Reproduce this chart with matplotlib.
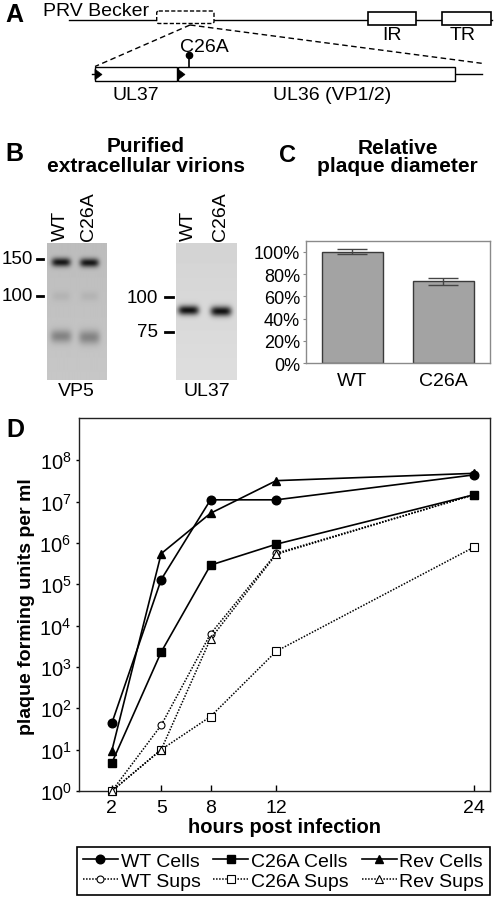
import numpy as np
import matplotlib
matplotlib.use("Agg")
import matplotlib.pyplot as plt
from matplotlib.patches import Rectangle, FancyBboxPatch, Polygon
from matplotlib.ticker import NullLocator

plt.rcParams['font.family'] = ['Liberation Sans', 'DejaVu Sans']
plt.rcParams['mathtext.fontset'] = 'custom'
plt.rcParams['mathtext.rm'] = 'Liberation Sans'
plt.rcParams['mathtext.it'] = 'Liberation Sans:italic'
plt.rcParams['mathtext.bf'] = 'Liberation Sans:bold'

# ---------------- data ----------------
hours = [2, 5, 8, 12, 24]
hour_ticks = [2, 5, 8, 12, 24]
wt_cells = [44, 1.3e5, 1.1e7, 1.1e7, 4.4e7]
c26a_cells = [4.8, 2.3e3, 2.9e5, 9.3e5, 1.45e7]
rev_cells = [9.5, 5.5e5, 5.2e6, 3.2e7, 4.8e7]
wt_sups = [1, 39, 6.3e3, 5.6e5, 1.45e7]
c26a_sups = [1, 10, 63, 2.4e3, 7.8e5]
rev_sups = [1, 10, 4.8e3, 5.3e5, 1.45e7]
series_labels = ['WT Cells', 'WT Sups', 'C26A Cells', 'C26A Sups', 'Rev Cells', 'Rev Sups']

plaque_labels = ['WT', 'C26A']
plaque_rel = [1.00, 0.735]
plaque_err = [0.02, 0.032]
plaque_ticks = [0, 0.2, 0.4, 0.6, 0.8, 1.0]

vp5_markers = ['150', '100']
ul37_markers = ['100', '75']
lane_labels = ['WT', 'C26A']

# ---------------- figure ----------------
W, H = 498, 903
fig = plt.figure(figsize=(W / 100, H / 100), dpi=100)
fig.patch.set_facecolor('white')


def rect(l, t, r, b):
    return [l / W, 1 - b / H, (r - l) / W, (b - t) / H]


ov = fig.add_axes([0, 0, 1, 1])
ov.set_xlim(0, W)
ov.set_ylim(H, 0)
ov.axis('off')

# ---------------- panel A (schematic) ----------------
lw = 1.0
ov.plot([69, 491.5], [20.5, 20.5], color='k', lw=lw)
ov.add_patch(FancyBboxPatch((156.7, 12), 57.3, 12.5,
                            boxstyle='round,pad=0,rounding_size=2',
                            fc='white', ec='k', ls=(0, (3, 1.5)), lw=lw, zorder=3))
for x0 in (367.7, 442.3):
    ov.add_patch(Rectangle((x0, 13), 48.2, 12.7, fc='white', ec='k', lw=1.2, zorder=3))
ov.plot([190, 95], [26, 67.5], color='k', lw=lw, ls=(0, (4, 2.5)))
ov.plot([190, 481.7], [26, 64.3], color='k', lw=lw, ls=(0, (4, 2.5)))
ov.plot([91.5, 95], [75, 75], color='k', lw=lw)
ov.plot([455, 481.7], [75, 75], color='k', lw=lw)
ov.add_patch(Rectangle((95, 68.3), 81.7, 13.4, fc='white', ec='k', lw=lw, zorder=3))
ov.add_patch(Rectangle((178, 68.3), 277, 13.4, fc='white', ec='k', lw=lw, zorder=3))
for x0 in (95, 178):
    ov.add_patch(Polygon([(x0, 70.3), (x0, 80.7), (x0 + 7, 75.5)], closed=True,
                         fc='k', ec='k', lw=0.5, zorder=4))
ov.plot([189, 189], [56, 68.3], color='k', lw=1.2)
ov.plot([189], [56], marker='o', ms=4.5, color='k')

fsA = 14
ov.text(43, 11, 'PRV Becker', ha='left', va='center', fontsize=fsA)
ov.text(392, 35, 'IR', ha='center', va='center', fontsize=fsA)
ov.text(463, 35, 'TR', ha='center', va='center', fontsize=fsA)
ov.text(204, 47, 'C26A', ha='center', va='center', fontsize=fsA)
ov.text(136, 95, 'UL37', ha='center', va='center', fontsize=fsA)
ov.text(332, 95, 'UL36 (VP1/2)', ha='center', va='center', fontsize=fsA)

# panel letters
for letter, (lx, ly, fs) in {'A': (14, 15, 18), 'B': (14, 154, 18),
                             'C': (287, 156, 17), 'D': (15, 430, 18)}.items():
    ov.text(lx, ly, letter, ha='center', va='center', fontsize=fs, fontweight='bold')

# ---------------- panel B (blots) ----------------
ov.text(146, 146.7, 'Purified', ha='center', va='center', fontsize=15, fontweight='bold')
ov.text(146, 166.7, 'extracellular virions', ha='center', va='center', fontsize=15,
        fontweight='bold')


def blot(l, t, r, b, bg, bands):
    xs = np.arange(l, r, 0.5)
    ys = np.arange(t, b, 0.5)
    X, Y = np.meshgrid(xs, ys)
    img = bg + 0.04 * (Y - t) / (b - t)
    for (cx, cy, sx, sy, a) in bands:
        img = img - a * np.exp(-(np.abs(X - cx) / sx) ** 4 - ((Y - cy) / sy) ** 2)
    ax = fig.add_axes(rect(l, t, r, b))
    ax.imshow(np.clip(img, 0, 1), cmap='gray', vmin=0, vmax=1, aspect='auto',
              extent=(l, r, b, t), interpolation='bilinear')
    ax.axis('off')
    return ax


blot(46.7, 244, 106, 380.7, 0.74,
     [(60.5, 263, 9.5, 4.4, 0.66), (88.5, 263.5, 9.5, 4.4, 0.66),
      (60.5, 297, 9, 5, 0.05), (88.5, 297, 9, 5, 0.05),
      (60.5, 337, 10.5, 6.5, 0.25), (88.5, 338, 10.5, 7, 0.25)])
blot(175.7, 244, 236.7, 380.7, 0.83,
     [(188, 311, 10.5, 4.8, 0.78), (220.5, 312, 10.5, 5.0, 0.78)])

for lbl, x in zip(lane_labels * 2, [60, 89, 188, 220]):
    ov.text(x, 241, lbl, rotation=90, ha='center', va='bottom', fontsize=14)

for lbl, y in zip(vp5_markers, [259.5, 296.7]):
    ov.text(33, y, lbl, ha='right', va='center', fontsize=13.5)
    ov.plot([36.7, 43.3], [y, y], color='k', lw=2)
for lbl, y in zip(ul37_markers, [298.3, 332.7]):
    ov.text(158, y, lbl, ha='right', va='center', fontsize=13.5)
    ov.plot([165, 172.7], [y, y], color='k', lw=2)

ov.text(76, 391.5, 'VP5', ha='center', va='center', fontsize=14)
ov.text(206.5, 391.5, 'UL37', ha='center', va='center', fontsize=14)

# ---------------- panel C (bars) ----------------
ov.text(397.5, 148, 'Relative', ha='center', va='center', fontsize=15, fontweight='bold')
ov.text(397.5, 167, 'plaque diameter', ha='center', va='center', fontsize=15,
        fontweight='bold')

axc = fig.add_axes(rect(305.7, 242.3, 490, 364.3))
xpos = np.arange(len(plaque_labels))
axc.bar(xpos, plaque_rel, width=0.67, color='#a3a3a3', edgecolor='#3a3a3a', lw=1,
        yerr=plaque_err, capsize=11,
        error_kw=dict(ecolor='#454545', elinewidth=1, capthick=1))
axc.set_xlim(-0.51, 1.51)
axc.set_ylim(0, 1.093)
axc.set_xticks(xpos)
axc.set_xticklabels(plaque_labels, fontsize=14)
axc.set_yticks(plaque_ticks)
axc.set_yticklabels(['%d%%' % round(v * 100) for v in plaque_ticks], fontsize=13)
axc.tick_params(axis='x', length=0, pad=6)
axc.tick_params(axis='y', direction='out', length=2.5, width=0.8, color='#888888', pad=1.5)
for s in axc.spines.values():
    s.set_color('#8a8a8a')
    s.set_linewidth(1)

# ---------------- panel D (growth curves) ----------------
axd = fig.add_axes(rect(79, 419, 490, 792))
axd.set_yscale('log')
dot = (0, (1, 1))
sup_kw = dict(color='k', lw=1.1, ls=dot, mfc='white', mec='k', mew=0.8, clip_on=False, zorder=3)
cell_kw = dict(color='k', lw=1.2, ls='-', mfc='k', mec='k', clip_on=False, zorder=4)
h_ws, = axd.plot(hours, wt_sups, marker='o', ms=5, **sup_kw)
h_cs, = axd.plot(hours, c26a_sups, marker='s', ms=5.5, **sup_kw)
h_rs, = axd.plot(hours, rev_sups, marker='^', ms=5.5, **sup_kw)
h_wc, = axd.plot(hours, wt_cells, marker='o', ms=6.2, **cell_kw)
h_cc, = axd.plot(hours, c26a_cells, marker='s', ms=5.6, **cell_kw)
h_rc, = axd.plot(hours, rev_cells, marker='^', ms=6.2, **cell_kw)

axd.set_xlim(0, 25)
axd.set_ylim(1, 10 ** 9.02)
axd.set_xticks(hour_ticks)
axd.set_yticks([10.0 ** i for i in range(9)])
axd.yaxis.set_minor_locator(NullLocator())
axd.tick_params(axis='x', direction='in', length=4, width=1, pad=6, labelsize=14)
axd.tick_params(axis='y', direction='out', length=2.5, width=1, pad=3, labelsize=14.5)
for s in axd.spines.values():
    s.set_linewidth(1)
    s.set_color('#222222')

ov.text(27, 607, 'plaque forming units per ml', rotation=90, ha='center', va='center',
        fontsize=14, fontweight='bold')
ov.text(284, 828, 'hours post infection', ha='center', va='center', fontsize=14.5,
        fontweight='bold')

handles = [h_wc, h_ws, h_cc, h_cs, h_rc, h_rs]
leg = fig.legend(handles, series_labels, loc='center', ncol=3, mode='expand',
                 bbox_to_anchor=(77 / W, 1 - 900 / H, 413 / W, 56 / H),
                 fontsize=14, frameon=True, fancybox=False, edgecolor='k',
                 framealpha=1, handlelength=1.8, handletextpad=0.15,
                 columnspacing=0.6, labelspacing=0.1, borderpad=0.3,
                 borderaxespad=0)
leg.get_frame().set_linewidth(1.2)

fig.savefig('out.png', dpi=100, facecolor='white')
